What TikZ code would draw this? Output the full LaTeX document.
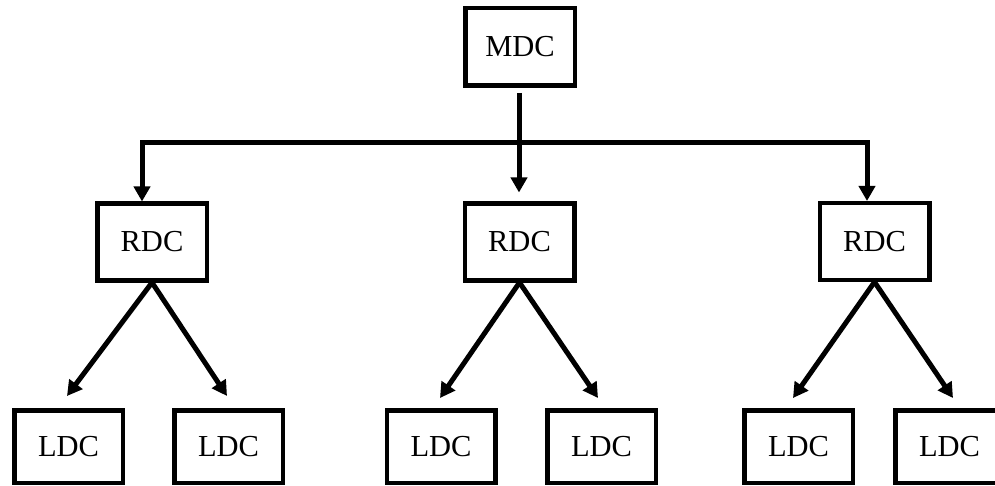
\documentclass[tikz,border=0pt]{standalone}
\usepackage{fontspec}
\setmainfont{Liberation Serif}
\usetikzlibrary{arrows.meta}
\begin{document}
\begin{tikzpicture}[x=1pt,y=-1pt,
  box/.style={draw=black,line width=4.5pt,fill=white,inner sep=0pt,font=\fontsize{30.5}{33}\selectfont},
  mdcbox/.style={box,minimum width=109.5pt,minimum height=77.5pt},
  rdcbox/.style={box,minimum width=109.5pt,minimum height=76.5pt},
  ldcbox/.style={box,minimum width=108.5pt,minimum height=72.5pt},
  arr/.style={line width=5pt,line join=miter,-{Triangle[width=16pt,length=15pt]}},
  bar/.style={line width=5pt}]
\useasboundingbox (0,0) rectangle (995,486);
\clip (0,0) rectangle (995,486);
\node[mdcbox] (mdc) at (520,47) {MDC};
\node[rdcbox] (rdc1) at (152,242) {RDC};
\node[rdcbox] (rdc2) at (519.5,242) {RDC};
\node[rdcbox] (rdc3) at (874.5,241.5) {RDC};
\node[ldcbox] (ldc1) at (68.5,446.5) {LDC};
\node[ldcbox] (ldc2) at (228.5,446.5) {LDC};
\node[ldcbox] (ldc3) at (441,446.5) {LDC};
\node[ldcbox] (ldc4) at (601.5,446.5) {LDC};
\node[ldcbox] (ldc5) at (798.5,446.5) {LDC};
\node[ldcbox] (ldc6) at (949.5,446.5) {LDC};
\coordinate (busL) at (142,143);
\coordinate (busR) at (867,143);
\draw[bar] (busL) -- (busR);
\draw[arr] ([xshift=-1pt,yshift=-5pt]mdc.south) -- ([xshift=-0.5pt,yshift=9pt]rdc2.north);
\draw[arr] ([xshift=-2.5pt]busL) -- (busL) -- (busL |- rdc1.north);
\draw[arr] ([xshift=2.5pt]busR) -- (busR) -- (busR |- rdc3.north);
\draw[arr] (rdc1.south) -- ([xshift=-1.5pt,yshift=12pt]ldc1.north);
\draw[arr] (rdc1.south) -- ([xshift=-1.5pt,yshift=12pt]ldc2.north);
\draw[arr] (rdc2.south) -- ([xshift=-1pt,yshift=10pt]ldc3.north);
\draw[arr] (rdc2.south) -- ([xshift=-3.5pt,yshift=10pt]ldc4.north);
\draw[arr] (rdc3.south) -- ([xshift=-5.5pt,yshift=10pt]ldc5.north);
\draw[arr] (rdc3.south) -- ([xshift=3.5pt,yshift=10pt]ldc6.north);
\end{tikzpicture}
\end{document}
